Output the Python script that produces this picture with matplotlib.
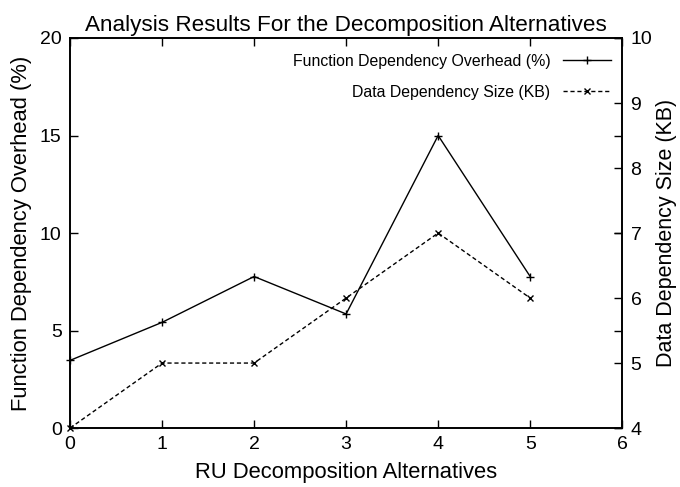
import matplotlib
matplotlib.use("Agg")
import matplotlib.pyplot as plt
from matplotlib.lines import Line2D

plt.rcParams['font.family'] = ['Liberation Sans', 'DejaVu Sans']

# data
alternatives = [0, 1, 2, 3, 4, 5]
func_overhead = [3.47, 5.42, 7.77, 5.85, 15.0, 7.77]
data_size = [4, 5, 5, 6, 7, 6]

fig = plt.figure(figsize=(6.8, 4.87), dpi=100)
ax = fig.add_axes([0.103, 0.121, 0.812, 0.801])
ax2 = ax.twinx()

ax.plot(alternatives, func_overhead, color='black', lw=1.0, marker='+',
        ms=6, mew=1.0, clip_on=False)
ax2.plot(alternatives, data_size, color='black', lw=1.0, ls=(0, (3, 2)),
         marker='x', ms=5, mew=1.0, clip_on=False)

ax.set_xlim(0, 6)
ax.set_ylim(0, 20)
ax2.set_ylim(4, 10)
ax.set_xticks(range(0, 7))
ax.set_yticks([0, 5, 10, 15, 20])
ax2.set_yticks(range(4, 11))

ax.tick_params(direction='in', length=6, width=1, labelsize=14, top=True,
               right=True, labelright=False, pad=6)
ax2.tick_params(direction='in', length=6, width=1, labelsize=14, pad=6)
for a in (ax, ax2):
    for s in a.spines.values():
        s.set_linewidth(1.2)

ax.set_title("Analysis Results For the Decomposition Alternatives",
             fontsize=16.2, pad=5)
ax.set_xlabel("RU Decomposition Alternatives", fontsize=15.8, labelpad=6)
ax.set_ylabel("Function Dependency Overhead (%)", fontsize=15.8, labelpad=6)
ax2.set_ylabel("Data Dependency Size (KB)", fontsize=15.5, labelpad=3)

handles = [
    Line2D([], [], color='black', lw=1.0, marker='+', ms=6, mew=1.0),
    Line2D([], [], color='black', lw=1.0, ls=(0, (3, 2)), marker='x', ms=5, mew=1.0),
]
labels = ["Function Dependency Overhead (%)", "Data Dependency Size (KB)"]
leg = ax.legend(handles, labels, loc='upper right', frameon=False,
                markerfirst=False, fontsize=11.4, handlelength=3.0,
                labelspacing=1.0, borderaxespad=0.6,
                bbox_to_anchor=(1.008, 1.0))
for t in leg.get_texts():
    t.set_ha('right')

fig.savefig("out.png", dpi=100)
